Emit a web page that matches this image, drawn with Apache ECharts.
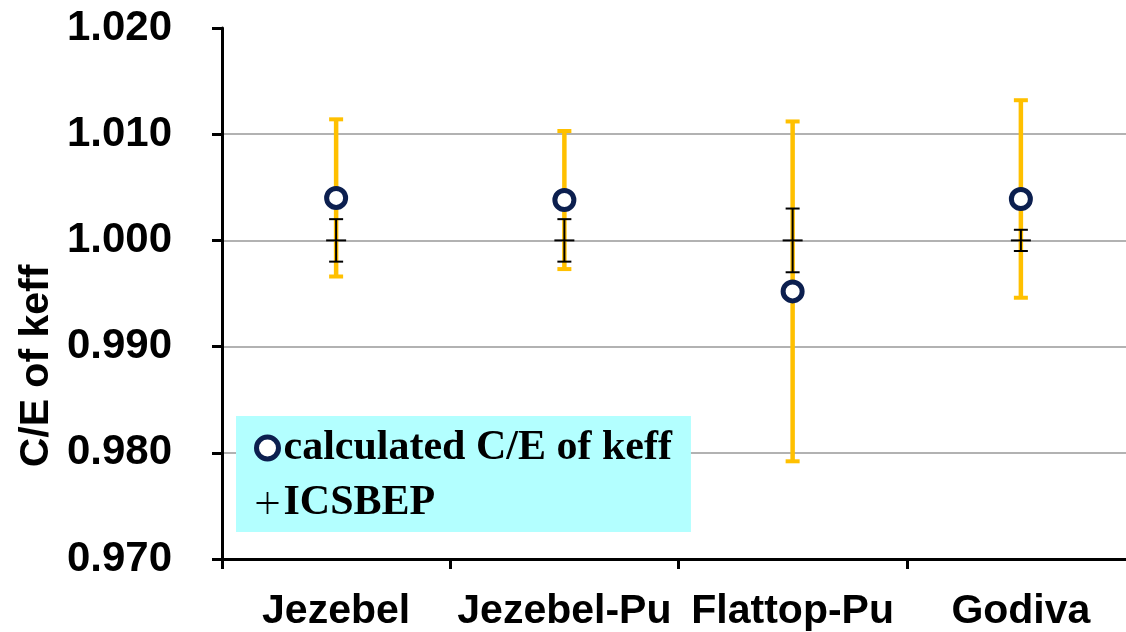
<!DOCTYPE html>
<html><head><meta charset="utf-8">
<script src="https://cdn.jsdelivr.net/npm/echarts@6/dist/echarts.min.js"></script>
<style>html,body{margin:0;padding:0;background:#fff;overflow:hidden;width:1126px;height:632px}#c{width:1140px;height:632px}</style>
</head><body><div id="c"></div>
<script>
const categories = ['Jezebel', 'Jezebel-Pu', 'Flattop-Pu', 'Godiva'];
const calcCE = [1.0040, 1.0038, 0.9952, 1.0039];
const calcErr = [0.0074, 0.0065, 0.0160, 0.0093];
const icsbepValue = [1.000, 1.000, 1.000, 1.000];
const icsbepErr = [0.0020, 0.0020, 0.0030, 0.0010];
const yTicks = [0.970, 0.980, 0.990, 1.000, 1.010, 1.020];

const calcBars = categories.map((c, i) => [i, calcCE[i] - calcErr[i], calcCE[i] + calcErr[i]]);
const icsBars = categories.map((c, i) => [i, icsbepValue[i] - icsbepErr[i], icsbepValue[i] + icsbepErr[i], icsbepValue[i]]);

const chart = echarts.init(document.getElementById('c'));
const FONT = 'Liberation Sans';

function orangeBar(params, api) {
  const x = api.value(0);
  const lo = api.coord([x, api.value(1)]);
  const hi = api.coord([x, api.value(2)]);
  const col = '#FFC000';
  const cw = 7;
  return {
    type: 'group',
    children: [
      {type: 'line', shape: {x1: lo[0], y1: lo[1], x2: hi[0], y2: hi[1]}, style: {stroke: col, lineWidth: 4.5}},
      {type: 'line', shape: {x1: lo[0] - cw, y1: lo[1], x2: lo[0] + cw, y2: lo[1]}, style: {stroke: col, lineWidth: 4}},
      {type: 'line', shape: {x1: hi[0] - cw, y1: hi[1], x2: hi[0] + cw, y2: hi[1]}, style: {stroke: col, lineWidth: 4}}
    ]
  };
}
function blackBar(params, api) {
  const x = api.value(0);
  const lo = api.coord([x, api.value(1)]);
  const hi = api.coord([x, api.value(2)]);
  const mid = api.coord([x, api.value(3)]);
  const cw = 7, pw = 10;
  const st = {stroke: '#000', lineWidth: 2};
  return {
    type: 'group',
    children: [
      {type: 'line', shape: {x1: lo[0], y1: lo[1], x2: hi[0], y2: hi[1]}, style: st},
      {type: 'line', shape: {x1: lo[0] - cw, y1: lo[1], x2: lo[0] + cw, y2: lo[1]}, style: st},
      {type: 'line', shape: {x1: hi[0] - cw, y1: hi[1], x2: hi[0] + cw, y2: hi[1]}, style: st},
      {type: 'line', shape: {x1: mid[0] - pw, y1: mid[1], x2: mid[0] + pw, y2: mid[1]}, style: st}
    ]
  };
}

chart.setOption({
  animation: false,
  grid: {left: 222, right: 5, top: 28, bottom: 72, containLabel: false},
  xAxis: {
    type: 'category', data: categories, boundaryGap: true,
    axisLine: {lineStyle: {color: '#000', width: 3}},
    axisTick: {show: true, length: 10, lineStyle: {color: '#000', width: 3}},
    axisLabel: {interval: 0, margin: 32, color: '#000', fontFamily: FONT, fontWeight: 'bold', fontSize: 41},
    splitLine: {show: false}
  },
  yAxis: {
    type: 'value', min: 0.97, max: 1.02, interval: 0.01,
    axisLine: {show: true, lineStyle: {color: '#000', width: 3}},
    axisTick: {show: true, length: 10, lineStyle: {color: '#000', width: 3}},
    axisLabel: {margin: 50, color: '#000', fontFamily: FONT, fontWeight: 'bold', fontSize: 42,
      formatter: v => v.toFixed(3)},
    splitLine: {show: true, showMaxLine: false, lineStyle: {color: '#999', width: 1.5}}
  },
  legend: {
    left: 236, top: 416, orient: 'vertical',
    backgroundColor: '#B3FFFF', padding: [11, 19, 8, 18], itemGap: 13,
    itemWidth: 22, itemHeight: 22,
    textStyle: {fontFamily: 'Liberation Serif', fontWeight: 'bold', fontSize: 42, color: '#000'},
    data: [
      {name: 'calculated C/E of keff', icon: 'circle',
        itemStyle: {color: '#fff', borderColor: '#0C1F4F', borderWidth: 5}},
      {name: 'ICSBEP', icon: 'path://M4.6,0h0.8v4.6h4.6v0.8h-4.6v4.6h-0.8v-4.6h-4.6v-0.8h4.6z',
        itemStyle: {color: '#000', borderWidth: 0}}
    ]
  },
  graphic: [{
    type: 'text', x: 37, y: 366, rotation: Math.PI / 2,
    style: {text: 'C/E of keff', fontFamily: FONT, fontWeight: 'bold', fontSize: 41, fill: '#000',
      align: 'center', verticalAlign: 'middle'}
  }],
  series: [
    {name: 'calc error', type: 'custom', renderItem: orangeBar, data: calcBars, z: 2, encode: {x: 0, y: [1, 2]}},
    {name: 'ICSBEP', type: 'custom', renderItem: blackBar, data: icsBars, z: 3, itemStyle: {color: '#000'}, encode: {x: 0, y: [1, 2]}},
    {name: 'calculated C/E of keff', type: 'scatter', data: calcCE.map((v, i) => [i, v]), z: 4,
      symbol: 'circle', symbolSize: 19,
      itemStyle: {color: '#fff', borderColor: '#0C1F4F', borderWidth: 5, opacity: 1}}
  ]
});
</script></body></html>
